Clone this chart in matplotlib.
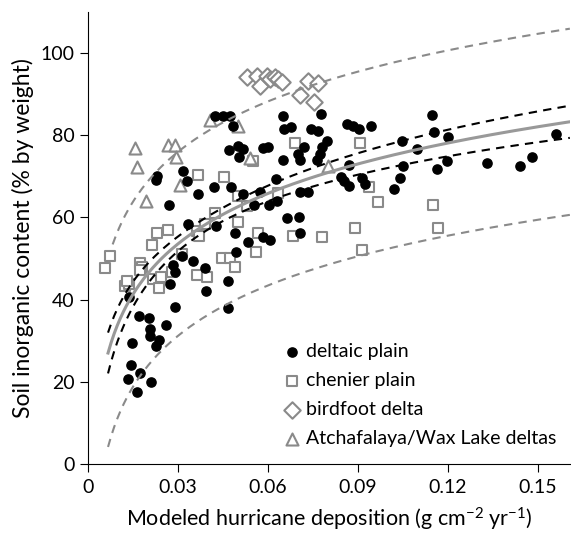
import numpy as np
import matplotlib
matplotlib.use('Agg')
import matplotlib.pyplot as plt

plt.rcParams['font.family'] = ['Lato', 'DejaVu Sans']
plt.rcParams['mathtext.fontset'] = 'custom'
plt.rcParams['mathtext.rm'] = 'Lato'
plt.rcParams['mathtext.it'] = 'Lato:italic'

# deltaic plain (deposition, inorganic %)
deltaic_x = [0.0423, 0.0450, 0.0473, 0.0483, 0.0650, 0.0777, 0.0653, 0.0677, 0.0743, 0.0767,
             0.0797, 0.0780, 0.0773, 0.0763, 0.0470, 0.0500, 0.0517, 0.0503, 0.0583, 0.0600,
             0.0650, 0.0700, 0.0707, 0.0720, 0.0230, 0.0227, 0.0317, 0.0330, 0.0270, 0.0367,
             0.0420, 0.0477, 0.0517, 0.0573, 0.0627, 0.0553, 0.0603, 0.0630, 0.0663, 0.0703,
             0.0707, 0.0733, 0.0333, 0.0427, 0.0490, 0.0707, 0.0533, 0.0583, 0.0607, 0.0493,
             0.0390, 0.0350, 0.0283, 0.0290, 0.0273, 0.0290, 0.0393, 0.0467, 0.0467, 0.0137,
             0.0170, 0.0203, 0.0207, 0.0207, 0.0260, 0.0237, 0.0227, 0.0147, 0.0143, 0.0173,
             0.0133, 0.0210, 0.0163, 0.0313, 0.0863, 0.0883, 0.0903, 0.0943, 0.0870, 0.0843,
             0.0853, 0.0870, 0.0913, 0.0923, 0.1047, 0.1050, 0.1040, 0.1020, 0.1097, 0.1147,
             0.1153, 0.1200, 0.1163, 0.1197, 0.1330, 0.1440, 0.1480, 0.1560]
deltaic_y = [84.6, 84.6, 84.6, 82.2, 84.6, 85.1, 81.5, 82.0, 81.5, 81.0,
             78.5, 77.1, 75.4, 73.9, 76.3, 77.3, 76.6, 74.6, 76.8, 77.1,
             73.9, 75.4, 73.9, 77.1, 70.0, 69.0, 71.2, 68.8, 62.9, 65.6,
             67.3, 67.3, 65.6, 66.1, 69.3, 62.9, 62.9, 63.9, 59.8, 60.2,
             66.1, 66.1, 58.5, 57.8, 56.3, 56.3, 53.9, 55.1, 54.4, 51.5,
             47.6, 49.3, 48.5, 46.8, 43.7, 38.3, 42.0, 44.4, 38.0, 40.7,
             35.9, 35.4, 32.9, 31.2, 33.9, 30.2, 28.8, 29.5, 24.1, 22.2,
             20.7, 20.0, 17.6, 50.5, 82.7, 82.2, 81.5, 82.2, 72.7, 69.8,
             68.8, 67.6, 69.5, 68.0, 78.5, 72.4, 69.5, 66.8, 76.6, 84.9,
             80.7, 79.5, 71.7, 73.7, 73.2, 72.4, 74.6, 80.2]

# chenier plain
chenier_x = [0.0057, 0.0073, 0.0123, 0.0137, 0.0130, 0.0173, 0.0180, 0.0173, 0.0213, 0.0230,
             0.0267, 0.0217, 0.0243, 0.0237, 0.0280, 0.0313, 0.0363, 0.0370, 0.0363, 0.0397,
             0.0447, 0.0473, 0.0490, 0.0390, 0.0423, 0.0500, 0.0567, 0.0560, 0.0683, 0.0780,
             0.0530, 0.0500, 0.0367, 0.0453, 0.0550, 0.0690, 0.0633, 0.0907, 0.0937, 0.0967,
             0.1150, 0.0890, 0.1167, 0.0913]
chenier_y = [47.8, 50.5, 43.2, 43.7, 44.4, 49.0, 48.0, 47.3, 53.2, 56.1,
             56.8, 44.9, 45.6, 42.9, 46.8, 51.2, 56.6, 55.4, 45.9, 45.6,
             50.0, 50.2, 48.0, 58.5, 61.0, 58.8, 56.3, 51.5, 55.4, 55.1,
             62.7, 65.1, 70.2, 69.8, 73.7, 78.0, 65.9, 78.0, 67.3, 63.7,
             62.9, 57.3, 57.3, 52.0]

# birdfoot delta
birdfoot_x = [0.0530, 0.0563, 0.0573, 0.0597, 0.0607, 0.0623, 0.0633, 0.0647, 0.0733, 0.0767,
              0.0707, 0.0753]
birdfoot_y = [94.1, 94.4, 92.0, 94.4, 93.7, 94.1, 93.7, 92.9, 93.2, 92.7,
              89.8, 88.0]

# Atchafalaya/Wax Lake deltas
atch_x = [0.0157, 0.0163, 0.0267, 0.0290, 0.0293, 0.0307, 0.0193, 0.0407, 0.0500, 0.0540, 0.0800]
atch_y = [76.8, 72.2, 77.6, 77.6, 74.6, 67.8, 63.9, 83.7, 82.2, 74.4, 72.4]

# log fit y = a + b ln(x) with confidence / prediction bands
fit_a, fit_b = 115.6, 17.7
conf_c0, conf_c1, conf_m = 1.6, 2.6, -3.2
pred_s = 22.3

gray = '#8a8a8a'

fig = plt.figure(figsize=(5.71, 5.34), dpi=100)
ax = fig.add_axes([0.154, 0.131, 0.844, 0.847])

xs = np.linspace(0.0067, 0.1607, 300)
fit = fit_a + fit_b * np.log(xs)
conf = np.sqrt(conf_c0 ** 2 + conf_c1 ** 2 * (np.log(xs) - conf_m) ** 2)
pred = np.sqrt(pred_s ** 2 + conf ** 2)

ax.scatter(deltaic_x, deltaic_y, s=44, c='black', marker='o', label='deltaic plain', zorder=3)
ax.scatter(chenier_x, chenier_y, s=62, facecolors='white', edgecolors=gray, linewidths=1.5,
           marker='s', label='chenier plain', zorder=2)
ax.scatter(birdfoot_x, birdfoot_y, s=70, facecolors='white', edgecolors=gray, linewidths=1.5,
           marker='D', label='birdfoot delta', zorder=2)
ax.scatter(atch_x, atch_y, s=75, facecolors='white', edgecolors=gray, linewidths=1.5,
           marker='^', label='Atchafalaya/Wax Lake deltas', zorder=2)

up = xs >= 0.0078
ax.plot(xs[up], (fit + pred)[up], ls=(0, (4, 3)), color=gray, lw=1.5, zorder=4)
ax.plot(xs, fit - pred, ls=(0, (4, 3)), color=gray, lw=1.5, zorder=4)
ax.plot(xs, fit + conf, ls=(0, (4, 3)), color='black', lw=1.5, zorder=4)
ax.plot(xs, fit - conf, ls=(0, (4, 3)), color='black', lw=1.5, zorder=4)
ax.plot(xs, fit, color='#999999', lw=2.2, zorder=5)

ax.set_xlim(0, 0.1607)
ax.set_ylim(0, 110)
ax.set_xticks([0, 0.03, 0.06, 0.09, 0.12, 0.15])
ax.set_xticklabels(['0', '0.03', '0.06', '0.09', '0.12', '0.15'])
ax.set_yticks([0, 20, 40, 60, 80, 100])
ax.spines['top'].set_visible(False)
ax.spines['right'].set_visible(False)
ax.tick_params(direction='out', length=6, labelsize=14)
ax.tick_params(axis='x', pad=5)

ax.set_xlabel(r'Modeled hurricane deposition (g cm$^{-2}$ yr$^{-1}$)', fontsize=15.5, labelpad=7)
ax.set_ylabel('Soil inorganic content (% by weight)', fontsize=16.5, labelpad=5)

ax.legend(loc='lower right', bbox_to_anchor=(1.0, 0.008), frameon=False, fontsize=14,
          handletextpad=0.1, labelspacing=0.62, borderpad=0.2, handlelength=1.2)

fig.savefig('out.png', dpi=100)
